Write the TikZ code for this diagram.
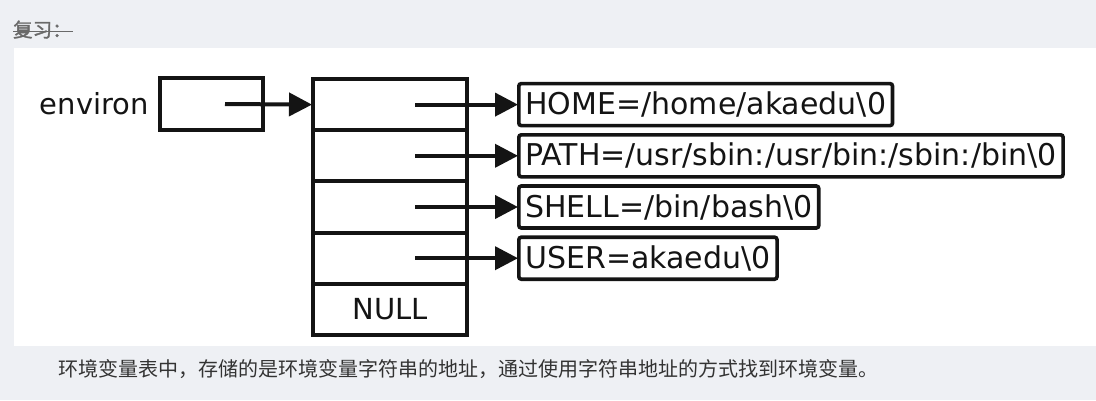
\documentclass[tikz,border=0pt]{standalone}
\usepackage{fontspec}
\setmainfont{DejaVu Sans}
\newfontfamily\cjk{Noto Sans CJK SC}
\newfontfamily\cjkbold[FakeBold=1.6]{Noto Sans CJK SC}
\usetikzlibrary{arrows.meta}
\definecolor{pagebg}{RGB}{238,240,244}
\definecolor{titlegray}{RGB}{105,105,105}
\definecolor{captiongray}{RGB}{51,51,51}
\definecolor{ink}{RGB}{20,20,20}
\begin{document}
\begin{tikzpicture}[x=1pt,y=-1pt,
  box/.style={draw=ink, line width=4pt, rectangle, inner sep=0pt},
  cell/.style={box, minimum width=154pt, minimum height=51.2pt, font=\fontsize{29}{29}\selectfont, text=ink},
  strbox/.style={draw=ink, line width=3.6pt, rounded corners=2.5pt, anchor=west, inner xsep=6.5pt, inner ysep=0pt,
     minimum height=42pt, font=\fontsize{30}{30}\selectfont, text=ink},
  ptr/.style={draw=ink, line width=4pt, -{Triangle[length=23pt,width=23pt]}, shorten >=-1pt}
]
\useasboundingbox (0,0) rectangle (1096,400);
\fill[pagebg] (0,0) rectangle (1096,400);
\fill[white] (14,48) rectangle (1096,346);

% title
\node[anchor=base west, inner sep=0pt, text=titlegray, font=\cjkbold\fontsize{19.5}{19.5}\selectfont] (title) at (13,37) {复习：};
\draw[titlegray, line width=1.4pt] ([yshift=5.5pt]title.base west) -- ++(60,0);

% environ
\node[anchor=east, inner sep=0pt, text=ink, font=\fontsize{29}{29}\selectfont] (envlabel) at (149,104) {environ};
\node[box, minimum width=103pt, minimum height=52pt] (envbox) at (211.5,104) {};
\coordinate (envsrc) at (225,104);

% array cells
\node[cell] (c1) at (390,104.6) {};
\node[cell] (c2) at (390,155.8) {};
\node[cell] (c3) at (390,207.0) {};
\node[cell] (c4) at (390,258.2) {};
\node[cell] (c5) at (390,309.4) {NULL};

\coordinate (p1) at (415,104.6);
\coordinate (p2) at (415,155.8);
\coordinate (p3) at (415,207.0);
\coordinate (p4) at (415,258.2);

% strings
\node[strbox] (s1) at (517,104.6) {HOME=/home/akaedu\textbackslash 0};
\node[strbox] (s2) at (517,155.8) {PATH=/usr/sbin:/usr/bin:/sbin:/bin\textbackslash 0};
\node[strbox] (s3) at (517,207.0) {SHELL=/bin/bash\textbackslash 0};
\node[strbox] (s4) at (517,258.2) {USER=akaedu\textbackslash 0};

% pointers
\draw[ptr] (envsrc) -- (c1.west);
\draw[ptr] (p1) -- (s1.west);
\draw[ptr] (p2) -- (s2.west);
\draw[ptr] (p3) -- (s3.west);
\draw[ptr] (p4) -- (s4.west);

% caption
\node[anchor=base west, inner sep=0pt, text=captiongray, font=\cjk\fontsize{20}{20}\selectfont] (caption) at (58,376)
  {环境变量表中，存储的是环境变量字符串的地址，通过使用字符串地址的方式找到环境变量。};
\end{tikzpicture}
\end{document}
